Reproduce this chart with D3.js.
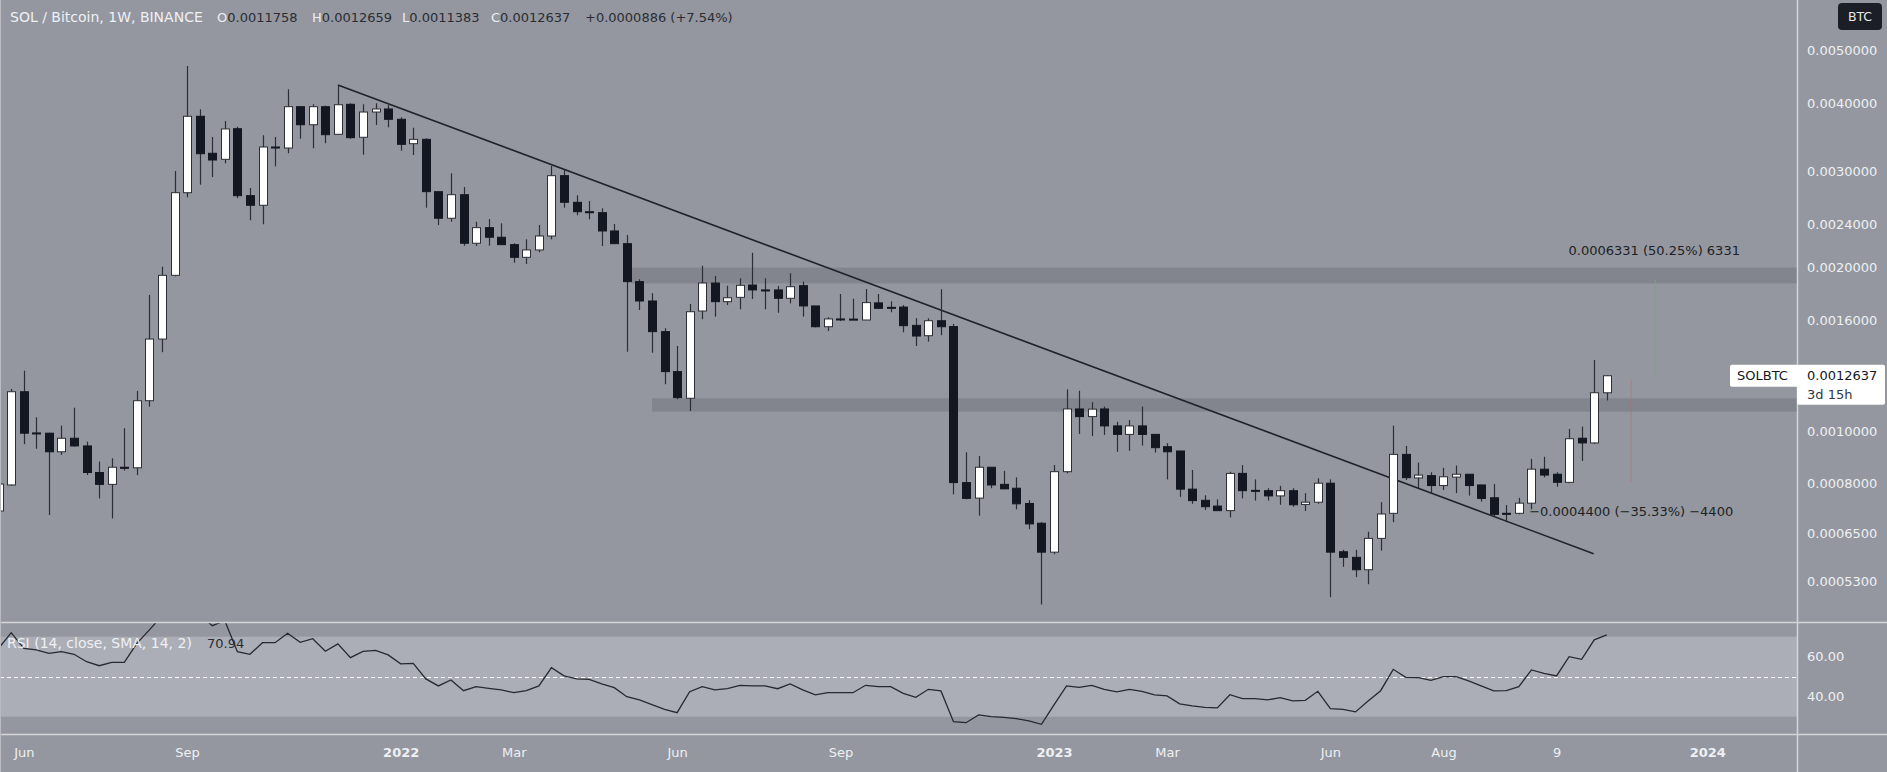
<!DOCTYPE html>
<html><head><meta charset="utf-8">
<script src="https://cdn.jsdelivr.net/npm/d3@7"></script>
<style>
html,body{margin:0;padding:0;background:#94979f;overflow:hidden;}
svg{display:block;}
text{font-family:"DejaVu Sans",Verdana,sans-serif;}
</style></head><body>
<svg id="chart" width="1887" height="772"></svg>
<script>
// ---------- DATA ----------
const firstWeek = "2021-05-24"; // weekly candles, one per Monday
const opens = [0.000713,0.000796,0.001181,0.000992,0.000991,0.000916,0.000970,0.000939,0.000839,0.000798,0.000858,0.000856,0.001137,0.001476,0.001933,0.002742,0.003789,0.003240,0.003158,0.003595,0.002708,0.002600,0.003327,0.003313,0.003946,0.003656,0.003946,0.003511,0.003986,0.003467,0.003858,0.003908,
0.003741,0.003374,0.003437,0.002754,0.002461,0.002719,0.002214,0.002365,0.002271,0.002201,0.002086,0.002152,0.002283,0.002947,0.002633,0.002530,0.002520,0.002332,0.002210,0.001882,0.001734,0.001523,0.001286,0.001149,0.001662,0.001871,0.001729,0.001761,0.001855,0.001817,0.001817,0.001754,
0.001850,0.001698,0.001555,0.001607,0.001606,0.001600,0.001720,0.001688,0.001690,0.001564,0.001497,0.001595,0.001556,0.000804,0.000753,0.000858,0.000798,0.000785,0.000736,0.000677,0.000599,0.000842,0.001098,0.001063,0.001098,0.001022,0.000986,0.001022,0.000986,0.000936,0.000919,0.000782,
0.000746,0.000728,0.000714,0.000836,0.000778,0.000777,0.000760,0.000777,0.000733,0.000740,0.000802,0.000600,0.000586,0.000556,0.000635,0.000706,0.000906,0.000820,0.000828,0.000794,0.000823,0.000833,0.000796,0.000754,0.000706,0.000706,0.000737,0.000851,0.000833,0.000805,0.000970,0.000951,0.0011758];
const highs = [0.000800,0.001195,0.001291,0.001060,0.000993,0.001023,0.001104,0.000956,0.000879,0.000891,0.001012,0.001185,0.001779,0.002005,0.003006,0.004687,0.003903,0.003471,0.003714,0.003626,0.002797,0.003496,0.003471,0.004247,0.003950,0.003986,0.003963,0.004325,0.004003,0.003986,0.004003,0.003974,
0.003773,0.003610,0.003452,0.002754,0.002977,0.002809,0.002425,0.002453,0.002409,0.002214,0.002251,0.002392,0.003070,0.003019,0.002712,0.002648,0.002567,0.002402,0.002293,0.001901,0.001792,0.001545,0.001433,0.001712,0.002013,0.001928,0.001850,0.001909,0.002127,0.001909,0.001848,0.001950,
0.001882,0.001698,0.001619,0.001786,0.001751,0.001824,0.001786,0.001732,0.001705,0.001612,0.001612,0.001822,0.001573,0.000914,0.000900,0.000858,0.000845,0.000822,0.000747,0.000680,0.000866,0.001193,0.001186,0.001130,0.001109,0.001040,0.001048,0.001109,0.000986,0.000950,0.000920,0.000848,
0.000762,0.000749,0.000842,0.000866,0.000815,0.000785,0.000793,0.000785,0.000769,0.000819,0.000815,0.000605,0.000605,0.000653,0.000740,0.001023,0.000939,0.000875,0.000840,0.000856,0.000864,0.000833,0.000796,0.000799,0.000731,0.000754,0.000889,0.000897,0.000840,0.001009,0.001019,0.001351,0.0012659];
const lows = [0.000698,0.000793,0.000946,0.000928,0.000701,0.000904,0.000936,0.000830,0.000752,0.000691,0.000846,0.000830,0.001109,0.001396,0.001925,0.002689,0.002837,0.002930,0.003105,0.002678,0.002440,0.002399,0.003066,0.003240,0.003446,0.003309,0.003380,0.003505,0.003446,0.003220,0.003652,0.003616,
0.003276,0.003216,0.002574,0.002392,0.002425,0.002191,0.002189,0.002191,0.002197,0.002039,0.002028,0.002131,0.002251,0.002574,0.002492,0.002450,0.002189,0.002207,0.001399,0.001669,0.001393,0.001219,0.001144,0.001089,0.001605,0.001623,0.001705,0.001674,0.001749,0.001674,0.001650,0.001717,
0.001623,0.001551,0.001527,0.001593,0.001600,0.001600,0.001679,0.001653,0.001519,0.001433,0.001460,0.001500,0.000765,0.000749,0.000699,0.000785,0.000782,0.000718,0.000660,0.000480,0.000594,0.000836,0.000988,0.000979,0.000984,0.000916,0.000920,0.000940,0.000913,0.000815,0.000757,0.000735,
0.000716,0.000714,0.000694,0.000752,0.000745,0.000745,0.000732,0.000726,0.000713,0.000735,0.000495,0.000563,0.000539,0.000523,0.000603,0.000680,0.000813,0.000785,0.000769,0.000779,0.000769,0.000761,0.000742,0.000696,0.000680,0.000703,0.000718,0.000822,0.000790,0.000802,0.000881,0.000947,0.0011383];
const closes = [0.000799,0.001181,0.000991,0.000990,0.000916,0.000970,0.000939,0.000839,0.000798,0.000858,0.000854,0.001137,0.001476,0.001933,0.002742,0.003789,0.003234,0.003149,0.003591,0.002708,0.002600,0.003327,0.003313,0.003946,0.003656,0.003946,0.003505,0.003979,0.003461,0.003858,0.003908,0.003741,
0.003365,0.003437,0.002754,0.002461,0.002719,0.002214,0.002365,0.002271,0.002201,0.002086,0.002152,0.002283,0.002947,0.002633,0.002530,0.002520,0.002332,0.002210,0.001882,0.001734,0.001523,0.001286,0.001152,0.001657,0.001871,0.001729,0.001758,0.001853,0.001817,0.001812,0.001754,0.001842,
0.001698,0.001555,0.001607,0.001605,0.001604,0.001722,0.001681,0.001685,0.001562,0.001495,0.001595,0.001555,0.000804,0.000752,0.000858,0.000796,0.000783,0.000735,0.000675,0.000599,0.000842,0.001098,0.001063,0.001097,0.001022,0.000986,0.001022,0.000986,0.000932,0.000916,0.000782,0.000745,
0.000726,0.000714,0.000836,0.000777,0.000776,0.000760,0.000777,0.000732,0.000740,0.000802,0.000599,0.000586,0.000556,0.000635,0.000704,0.000906,0.000821,0.000830,0.000794,0.000824,0.000833,0.000794,0.000752,0.000703,0.000704,0.000737,0.000851,0.000830,0.000805,0.000968,0.000951,0.001176,0.0012637];
const rsiValues = [64.2,72.0,64.2,63.4,61.7,62.5,61.2,57.5,55.5,57.2,57.2,66.7,73.4,80.5,86.0,88.0,81.0,75.5,78.0,62.5,61.2,67.0,67.0,71.7,67.2,69.0,62.7,66.4,59.5,62.7,63.2,60.9,
56.4,56.7,48.9,45.4,48.4,43.0,45.0,44.2,43.4,42.0,43.0,45.4,54.5,50.4,48.9,48.7,46.4,44.5,40.0,38.4,36.0,33.7,32.0,42.5,45.0,43.4,44.0,45.7,45.4,45.4,44.0,46.4,
43.4,40.9,42.0,42.0,42.0,45.7,45.0,45.0,41.7,39.7,43.7,42.9,27.5,27.0,30.9,30.0,29.7,29.0,27.9,26.2,35.9,45.4,44.7,45.7,43.7,42.4,43.7,42.7,40.9,40.4,36.4,35.4,
34.7,34.4,41.0,39.0,39.0,38.4,39.5,37.9,38.2,42.7,34.0,33.7,32.4,37.9,43.0,53.7,49.7,49.5,48.2,50.0,50.0,47.9,45.4,42.9,43.0,45.0,53.4,51.7,50.4,60.0,58.7,68.4,70.94];

const priceTicks = [0.005,0.004,0.003,0.0024,0.002,0.0016,0.0013,0.001,0.0008,0.00065,0.00053];
const rsiTicks = [60,40];
const timeTickDates = ["2021-06-07","2021-09-06","2022-01-03","2022-03-07","2022-06-06","2022-09-05","2023-01-02","2023-03-06","2023-06-05","2023-08-07","2023-10-09","2024-01-01"];
const timeTickLabels = ["Jun","Sep","2022","Mar","Jun","Sep","2023","Mar","Jun","Aug","9","2024"];

const zoneStarts = ["2022-05-11T16:00:00Z","2022-05-23T00:00:00Z"];
const zoneLows = [0.001868,0.0010856];
const zoneHighs = [0.001997,0.0011487];

const trendDates = ["2021-11-29T00:00:00Z","2023-10-29T16:00:00Z"];
const trendPrices = [0.004326,0.000595];

const measureDates = ["2023-12-03T00:00:00Z","2023-11-19T14:00:00Z"];
const measureFrom = [0.0012637,0.0012454];
const measureTo = [0.0018968,0.0008054];
const measureLabels = ["0.0006331 (50.25%) 6331","\u22120.0004400 (\u221235.33%) \u22124400"];

const header = {title:"SOL / Bitcoin, 1W, BINANCE", o:"0.0011758", h:"0.0012659", l:"0.0011383", c:"0.0012637", chg:"+0.0000886 (+7.54%)"};
const lastLabel = {sym:"SOLBTC", price:"0.0012637", left:"3d 15h"};
const rsiLabel = {name:"RSI (14, close, SMA, 14, 2)", value:"70.94"};

// ---------- LAYOUT ----------
const W = 1887, H = 772, plotR = 1797, mainB = 622, rsiB = 734;
const BG = "#94979f", TXT = "#eef0f4", DARK = "#131722", SEP = "#d3d5da";

const svg = d3.select("#chart");
const parse = s => new Date(s.length === 10 ? s + "T00:00:00Z" : s);
const start = parse(firstWeek);
const dates = opens.map((_, i) => d3.utcDay.offset(start, 7 * i));

const x = d3.scaleUtc().domain([parse("2022-01-03"), parse("2023-01-02")]).range([400.7, 1054]);
const y = d3.scaleLog().domain([0.0004457, 0.006198]).range([mainB, 0]);
const yr = d3.scaleLinear().domain([30, 70]).range([716.7, 636.7]);

svg.append("rect").attr("width", W).attr("height", H).attr("fill", BG);

const defs = svg.append("defs");
defs.append("clipPath").attr("id", "cm").append("rect").attr("x", 0).attr("y", 0).attr("width", plotR).attr("height", mainB);
defs.append("clipPath").attr("id", "cr").append("rect").attr("x", 0).attr("y", mainB + 1).attr("width", plotR).attr("height", rsiB - mainB - 1);

// ---------- MAIN PANE ----------
const main = svg.append("g").attr("clip-path", "url(#cm)");

// zones
main.selectAll("rect.zone").data(zoneStarts).join("rect").attr("class", "zone")
  .attr("x", d => x(parse(d))).attr("width", (d) => plotR - x(parse(d)))
  .attr("y", (d, i) => y(zoneHighs[i])).attr("height", (d, i) => y(zoneLows[i]) - y(zoneHighs[i]))
  .attr("fill", "#82858d");

// trend line
main.append("line")
  .attr("x1", x(parse(trendDates[0]))).attr("y1", y(trendPrices[0]))
  .attr("x2", x(parse(trendDates[1]))).attr("y2", y(trendPrices[1]))
  .attr("stroke", "#1f2228").attr("stroke-width", 1.6);

// candles
const cg = main.append("g");
const idx = d3.range(opens.length);
cg.selectAll("line.wick").data(idx).join("line").attr("class", "wick")
  .attr("x1", i => Math.round(x(dates[i])) + 0.5).attr("x2", i => Math.round(x(dates[i])) + 0.5)
  .attr("y1", i => y(highs[i])).attr("y2", i => y(lows[i]))
  .attr("stroke", "#2b2e35").attr("stroke-width", 1.2);
cg.selectAll("rect.body").data(idx).join("rect").attr("class", "body")
  .attr("x", i => Math.round(x(dates[i])) - 4 + 0.5)
  .attr("width", 8)
  .attr("y", i => y(Math.max(opens[i], closes[i])))
  .attr("height", i => Math.max(1, y(Math.min(opens[i], closes[i])) - y(Math.max(opens[i], closes[i]))))
  .attr("fill", i => closes[i] >= opens[i] ? "#ffffff" : DARK)
  .attr("stroke", i => closes[i] >= opens[i] ? "#2b2e35" : DARK)
  .attr("stroke-width", 1);

// measurement lines
main.append("line").attr("x1", x(parse(measureDates[0]))).attr("x2", x(parse(measureDates[0])))
  .attr("y1", y(measureFrom[0])).attr("y2", y(measureTo[0]))
  .attr("stroke", "#63b56e").attr("stroke-opacity", 0.85).attr("stroke-width", 1);
main.append("line").attr("x1", x(parse(measureDates[1]))).attr("x2", x(parse(measureDates[1])))
  .attr("y1", y(measureFrom[1])).attr("y2", y(measureTo[1]))
  .attr("stroke", "#d9606b").attr("stroke-opacity", 0.6).attr("stroke-width", 1);
main.append("text").attr("x", x(parse(measureDates[0])) - 1).attr("y", y(measureTo[0]) - 29)
  .attr("text-anchor", "middle").attr("dy", "0.35em").attr("font-size", 13).attr("fill", "#1c1f25").text(measureLabels[0]);
main.append("text").attr("x", x(parse(measureDates[1]))).attr("y", y(measureTo[1]) + 29.5)
  .attr("text-anchor", "middle").attr("dy", "0.35em").attr("font-size", 13).attr("fill", "#1c1f25").text(measureLabels[1]);

// ---------- RSI PANE ----------
const rsiG = svg.append("g").attr("clip-path", "url(#cr)");
rsiG.append("rect").attr("x", 0).attr("width", plotR).attr("y", yr(70)).attr("height", yr(30) - yr(70)).attr("fill", "#abaeb6");
rsiG.append("line").attr("x1", 0).attr("x2", plotR).attr("y1", Math.round(yr(50)) + 0.5).attr("y2", Math.round(yr(50)) + 0.5)
  .attr("stroke", "#ffffff").attr("stroke-width", 1).attr("stroke-dasharray", "4,3");
rsiG.append("path").datum(idx)
  .attr("d", d3.line().x(i => x(dates[i])).y(i => yr(rsiValues[i])))
  .attr("fill", "none").attr("stroke", "#26292f").attr("stroke-width", 1.3);
const rl = svg.append("text").attr("x", 7).attr("y", 643).attr("dy", "0.35em").attr("font-size", 14);
rl.append("tspan").attr("fill", TXT).text(rsiLabel.name);
rl.append("tspan").attr("x", 207).attr("font-size", 13).attr("fill", "#2a2d34").text(rsiLabel.value);

// ---------- SEPARATORS ----------
svg.append("line").attr("x1", plotR + 0.5).attr("x2", plotR + 0.5).attr("y1", 0).attr("y2", H).attr("stroke", SEP).attr("stroke-width", 1.5);
svg.append("line").attr("x1", 0).attr("x2", W).attr("y1", mainB + 0.5).attr("y2", mainB + 0.5).attr("stroke", SEP).attr("stroke-width", 1.5);
svg.append("line").attr("x1", 0).attr("x2", W).attr("y1", rsiB + 0.5).attr("y2", rsiB + 0.5).attr("stroke", SEP).attr("stroke-width", 1.5);
svg.append("line").attr("x1", 0.5).attr("x2", 0.5).attr("y1", 0).attr("y2", H).attr("stroke", "#b9bbc1").attr("stroke-width", 1);

// ---------- AXES ----------
const pa = svg.append("g").attr("transform", `translate(${plotR},0)`)
  .call(d3.axisRight(y).tickValues(priceTicks).tickFormat(d => d.toFixed(7)).tickSize(0).tickPadding(10));
pa.select(".domain").remove();
pa.selectAll("text").attr("fill", TXT).attr("font-size", 13).attr("font-family", "DejaVu Sans, Verdana, sans-serif");

const ra = svg.append("g").attr("transform", `translate(${plotR},0)`)
  .call(d3.axisRight(yr).tickValues(rsiTicks).tickFormat(d => d.toFixed(2)).tickSize(0).tickPadding(10));
ra.select(".domain").remove();
ra.selectAll("text").attr("fill", TXT).attr("font-size", 13).attr("font-family", "DejaVu Sans, Verdana, sans-serif");

const tDates = timeTickDates.map(parse);
const ta = svg.append("g").attr("transform", `translate(0,${rsiB})`)
  .call(d3.axisBottom(x).tickValues(tDates).tickFormat((d, i) => timeTickLabels[i]).tickSize(0).tickPadding(14));
ta.select(".domain").remove();
ta.selectAll("text").attr("fill", TXT).attr("font-size", 13).attr("font-family", "DejaVu Sans, Verdana, sans-serif")
  .attr("font-weight", (d, i) => /^\d{4}$/.test(timeTickLabels[i]) ? "bold" : "normal");

// ---------- LAST PRICE LABEL ----------
const ly = y(closes[closes.length - 1]);
const lab = svg.append("g");
lab.append("rect").attr("x", 1730).attr("y", ly - 11).attr("width", 70).attr("height", 22).attr("rx", 2).attr("fill", "#ffffff");
lab.append("rect").attr("x", 1797).attr("y", ly - 11).attr("width", 88).attr("height", 40).attr("rx", 2).attr("fill", "#ffffff");
lab.append("text").attr("x", 1737).attr("y", ly).attr("dy", "0.35em").attr("font-size", 13).attr("fill", "#131722").text(lastLabel.sym);
lab.append("text").attr("x", 1807).attr("y", ly).attr("dy", "0.35em").attr("font-size", 13).attr("fill", "#131722").text(lastLabel.price);
lab.append("text").attr("x", 1807).attr("y", ly + 19).attr("dy", "0.35em").attr("font-size", 13).attr("fill", "#333740").text(lastLabel.left);

// ---------- CURRENCY BADGE ----------
svg.append("rect").attr("x", 1838).attr("y", 3).attr("width", 44).attr("height", 27).attr("rx", 4).attr("fill", "#1b1e25");
svg.append("text").attr("x", 1860).attr("y", 16.5).attr("dy", "0.35em").attr("text-anchor", "middle").attr("font-size", 12.5).attr("fill", "#e6e8ec").text("BTC");

// ---------- HEADER ----------
const hy = 17;
svg.append("text").attr("x", 10).attr("y", hy).attr("dy", "0.35em").attr("font-size", 14).attr("fill", TXT).text(header.title);
const hv = [["O", header.o, 217], ["H", header.h, 312], ["L", header.l, 402], ["C", header.c, 491]];
hv.forEach(([k, v, px]) => {
  const t = svg.append("text").attr("x", px).attr("y", hy).attr("dy", "0.35em").attr("font-size", 13);
  t.append("tspan").attr("fill", TXT).text(k);
  t.append("tspan").attr("fill", "#2a2d34").text(v);
});
svg.append("text").attr("x", 585).attr("y", hy).attr("dy", "0.35em").attr("font-size", 13).attr("fill", "#2a2d34").text(header.chg);
</script>
</body></html>
